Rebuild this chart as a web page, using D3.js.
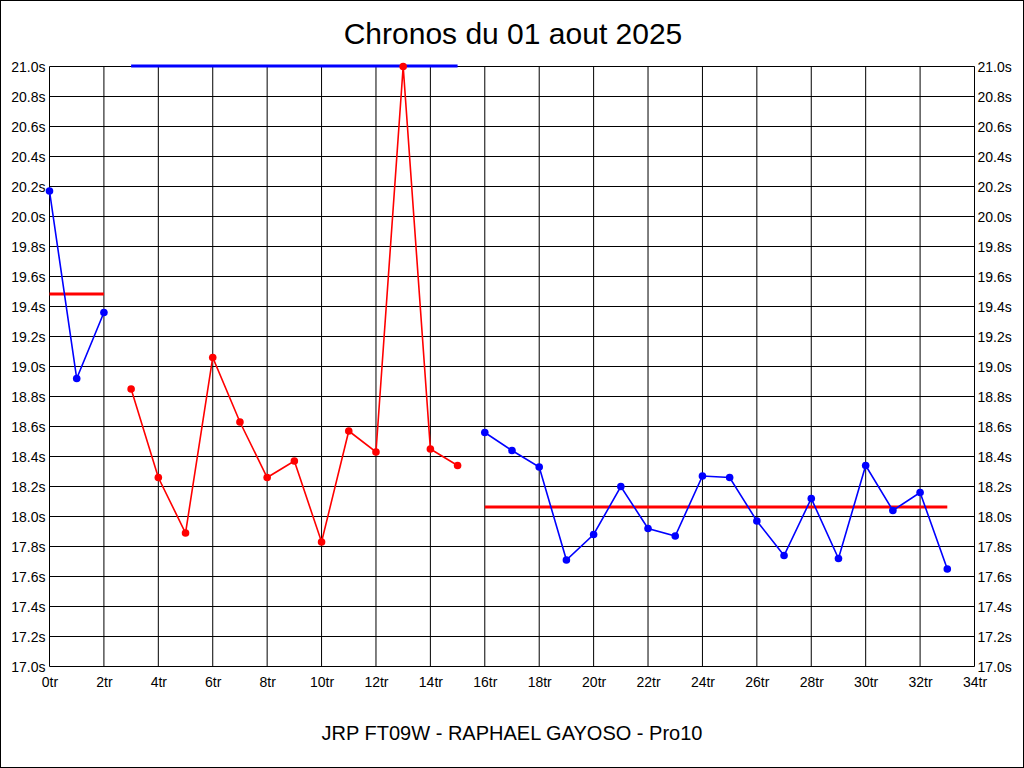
<!DOCTYPE html>
<html><head><meta charset="utf-8">
<script src="https://cdn.jsdelivr.net/npm/d3@7"></script>
<style>
html,body{margin:0;padding:0;background:#fff;}
svg{display:block;}
text{font-family:"Liberation Sans",Arial,sans-serif;fill:#000;}
</style></head>
<body>
<script>
const title = "Chronos du 01 aout 2025";
const subtitle = "JRP FT09W - RAPHAEL GAYOSO - Pro10";

const tours1 = [0, 1, 2];
const chronos1 = [20.17, 18.92, 19.36];
const tours2 = [3, 4, 5, 6, 7, 8, 9, 10, 11, 12, 13, 14, 15];
const chronos2 = [18.85, 18.26, 17.89, 19.06, 18.63, 18.26, 18.37, 17.83, 18.57, 18.43, 21.0, 18.45, 18.34];
const tours3 = [16, 17, 18, 19, 20, 21, 22, 23, 24, 25, 26, 27, 28, 29, 30, 31, 32, 33];
const chronos3 = [18.56, 18.44, 18.33, 17.71, 17.88, 18.20, 17.92, 17.87, 18.27, 18.26, 17.97, 17.74, 18.12, 17.72, 18.34, 18.04, 18.16, 17.65];
const moyennes = [19.48, 21.0, 18.06];
const couleursSerie = ["#0000ff", "#ff0000", "#0000ff"];
const couleursMoyenne = ["#ff0000", "#0000ff", "#ff0000"];

const xTicks = d3.range(0, 35, 2);
const yTicks = d3.range(0, 21).map(i => +(17 + i * 0.2).toFixed(1));

const W = 1024, H = 768;
const svg = d3.select("body").append("svg").attr("width", W).attr("height", H);

svg.append("rect").attr("x", 0.5).attr("y", 0.5).attr("width", W - 1).attr("height", H - 1)
  .attr("fill", "#fff").attr("stroke", "#000");

const x = d3.scaleLinear().domain([0, 34]).range([49.5, 974.5]);
const y = d3.scaleLinear().domain([17, 21]).range([666.5, 66.5]);

// grid
const g = svg.append("g");
g.selectAll(".hg").data(yTicks).enter().append("line")
  .attr("x1", x(0)).attr("x2", x(34)).attr("y1", d => y(d)).attr("y2", d => y(d))
  .attr("stroke", "#000").attr("stroke-width", 1);
g.selectAll(".vg").data(xTicks).enter().append("line")
  .attr("x1", d => x(d)).attr("x2", d => x(d)).attr("y1", y(21)).attr("y2", y(17))
  .attr("stroke", "#000").attr("stroke-width", 1);

// axes labels via d3 axes
const fmtY = d => d.toFixed(1) + "s";
const axL = svg.append("g").attr("transform", `translate(${x(0) - 4},0)`)
  .call(d3.axisLeft(y).tickValues(yTicks).tickFormat(fmtY).tickSize(0).tickPadding(0));
const axR = svg.append("g").attr("transform", `translate(${x(34) + 3},0)`)
  .call(d3.axisRight(y).tickValues(yTicks).tickFormat(fmtY).tickSize(0).tickPadding(0));
const axB = svg.append("g").attr("transform", `translate(0,${y(17) + 11})`)
  .call(d3.axisBottom(x).tickValues(xTicks).tickFormat(d => d + "tr").tickSize(0).tickPadding(0));
[axL, axR, axB].forEach(a => {
  a.select(".domain").remove();
  a.selectAll("text").attr("font-size", 14).attr("font-family", "'Liberation Sans', Arial, sans-serif").attr("fill", "#000");
});
axL.selectAll("text").attr("dy", "0.35em");
axR.selectAll("text").attr("dy", "0.35em");

// averages
const segs = [[tours1, chronos1], [tours2, chronos2], [tours3, chronos3]];
segs.forEach((s, i) => {
  const t = s[0];
  svg.append("line")
    .attr("x1", x(d3.min(t))).attr("x2", x(d3.max(t)))
    .attr("y1", y(moyennes[i]) - 0.5).attr("y2", y(moyennes[i]) - 0.5)
    .attr("stroke", couleursMoyenne[i]).attr("stroke-width", 3);
});

// series
const line = d3.line().x(d => x(d[0])).y(d => y(d[1]));
segs.forEach((s, i) => {
  const pts = s[0].map((t, j) => [t, s[1][j]]);
  svg.append("path").datum(pts).attr("d", line)
    .attr("fill", "none").attr("stroke", couleursSerie[i]).attr("stroke-width", 1.6);
  svg.selectAll(null).data(pts).enter().append("circle")
    .attr("cx", d => x(d[0])).attr("cy", d => y(d[1])).attr("r", 3.8)
    .attr("fill", couleursSerie[i]);
});

svg.append("text").attr("x", 513).attr("y", 44).attr("text-anchor", "middle")
  .attr("font-size", 30).text(title);
svg.append("text").attr("x", 512).attr("y", 740).attr("text-anchor", "middle")
  .attr("font-size", 20).text(subtitle);
</script>
</body></html>
